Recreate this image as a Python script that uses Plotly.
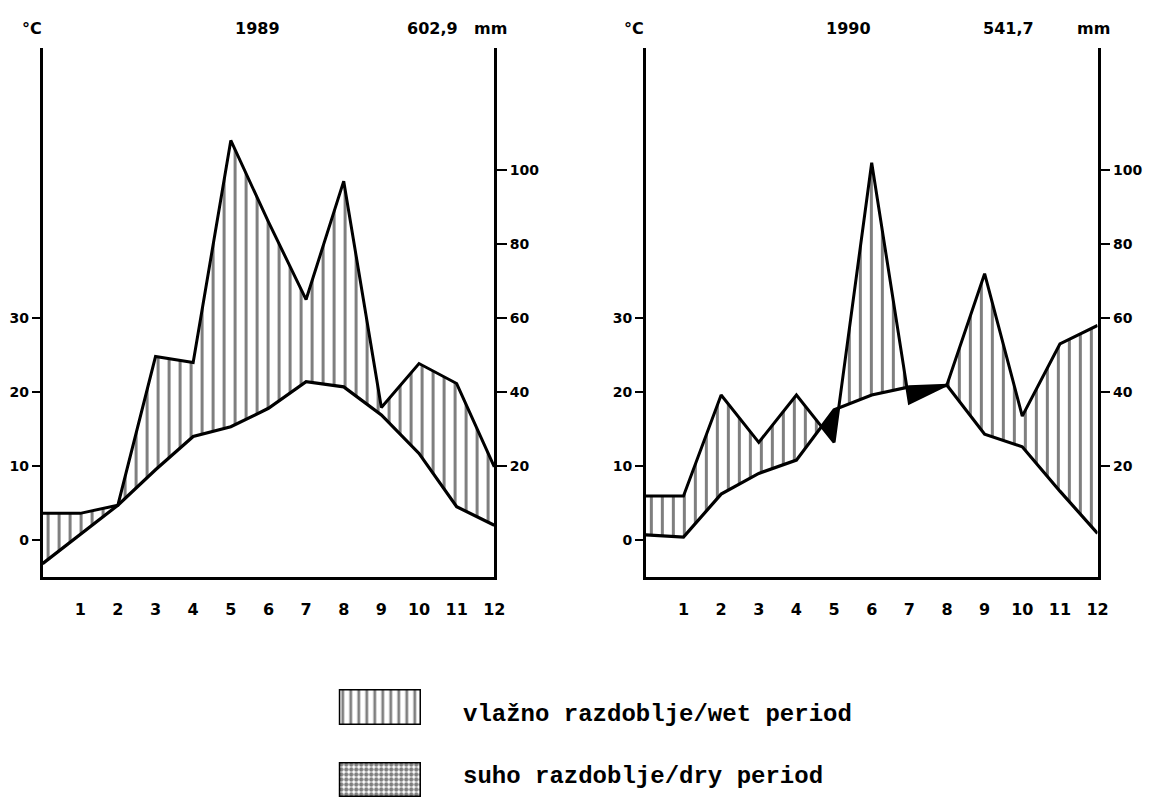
import plotly.graph_objects as go

# ---------------- data ----------------
months_x = [0, 1, 2, 3, 4, 5, 6, 7, 8, 9, 10, 11, 12]
month_labels = ["1", "2", "3", "4", "5", "6", "7", "8", "9", "10", "11", "12"]
month_ticks = [1, 2, 3, 4, 5, 6, 7, 8, 9, 10, 11, 12]

temp_1989 = [-3.2, 0.8, 4.7, 9.5, 14.0, 15.3, 17.8, 21.4, 20.7, 16.9, 11.7, 4.5, 2.0]
precip_1989 = [7.2, 7.2, 9.4, 49.6, 48.0, 108.0, 86.0, 65.0, 97.0, 35.8, 47.7, 42.3, 19.8]

temp_1990 = [0.7, 0.4, 6.2, 9.0, 10.8, 17.6, 19.6, 20.7, 20.9, 14.3, 12.6, 6.6, 0.9]
precip_1990 = [11.9, 11.9, 39.2, 26.4, 39.2, 26.4, 102.0, 37.0, 42.0, 72.0, 33.5, 53.0, 58.0]

temp_ticks = [0, 10, 20, 30]
precip_ticks = [20, 40, 60, 80, 100]

years = ["1989", "1990"]
totals = ["602,9", "541,7"]
unit_t = "°C"
unit_p = "mm"
legend_labels = ["vlažno razdoblje/wet period", "suho razdoblje/dry period"]

# ---------------- layout constants ----------------
W, H = 1166, 798
T_RANGE = [-5, 66.5]
P_RANGE = [2 * T_RANGE[0], 2 * T_RANGE[1]]
YDOM = [1 - 577 / H, 1 - 48 / H]
XDOM_L = [43 / W, 499 / W]
XDOM_R = [652 / W, 1108 / W]
# header text centres (px) for each chart: unit °C, year, total, unit mm
HDR_X = [[32, 260, 437, 495], [640, 857, 1018, 1104]]
BOLD = "DejaVu Sans"
HATCH = dict(shape="|", fgcolor="black", bgcolor="white", size=11, solidity=0.27)


def with_crossings(x, p, t):
    xs, ps, ts = [x[0]], [p[0]], [t[0]]
    for i in range(len(x) - 1):
        d0 = p[i] - t[i]
        d1 = p[i + 1] - t[i + 1]
        if d0 * d1 < 0:
            f = d0 / (d0 - d1)
            xc = x[i] + f * (x[i + 1] - x[i])
            yc = t[i] + f * (t[i + 1] - t[i])
            xs.append(xc); ps.append(yc); ts.append(yc)
        xs.append(x[i + 1]); ps.append(p[i + 1]); ts.append(t[i + 1])
    return xs, ps, ts


fig = go.Figure()


def add_chart(temp, precip, xa, ya, ya2):
    p_half = [v / 2 for v in precip]
    xs, ps, ts = with_crossings(months_x, p_half, temp)
    wet_top = [max(a, b) for a, b in zip(ps, ts)]
    dry_bot = [min(a, b) for a, b in zip(ps, ts)]
    common = dict(mode="lines", hoverinfo="skip", showlegend=False, xaxis=xa, yaxis=ya)
    fig.add_trace(go.Scatter(x=xs, y=ts, line=dict(width=0, color="black"), **common))
    fig.add_trace(go.Scatter(x=xs, y=wet_top, fill="tonexty", fillpattern=HATCH,
                             fillcolor="white", line=dict(width=0, color="black"), **common))
    fig.add_trace(go.Scatter(x=xs, y=dry_bot, line=dict(width=0, color="black"), **common))
    fig.add_trace(go.Scatter(x=xs, y=ts, fill="tonexty", fillcolor="black",
                             line=dict(width=0, color="black"), **common))
    fig.add_trace(go.Scatter(x=months_x, y=temp, line=dict(width=3.2, color="black"), **common))
    fig.add_trace(go.Scatter(x=months_x, y=precip, mode="lines", hoverinfo="skip", showlegend=False,
                             xaxis=xa, yaxis=ya2, line=dict(width=3, color="black")))


add_chart(temp_1989, precip_1989, "x", "y", "y2")
add_chart(temp_1990, precip_1990, "x2", "y3", "y4")

# legend boxes (drawn on their own small hidden axes)
box_x = [0, 1, 1, 0, 0]
box_y = [0, 0, 1, 1, 0]
fig.add_trace(go.Scatter(x=box_x, y=box_y, fill="toself", mode="lines",
                         fillpattern=dict(shape="|", fgcolor="black", bgcolor="white", size=8, solidity=0.35),
                         fillcolor="white", line=dict(color="black", width=3),
                         xaxis="x3", yaxis="y5", hoverinfo="skip", showlegend=False))
fig.add_trace(go.Scatter(x=box_x, y=box_y, fill="toself", mode="lines",
                         fillpattern=dict(shape=".", fgcolor="black", bgcolor="white", size=5, solidity=0.6),
                         fillcolor="white", line=dict(color="black", width=3),
                         xaxis="x4", yaxis="y6", hoverinfo="skip", showlegend=False))

tickfont = dict(family=BOLD, size=14, color="black", weight="bold")
monthfont = dict(family=BOLD, size=16, color="black", weight="bold")


def xaxis_cfg(dom, anchor):
    return dict(domain=dom, range=[0, 12], anchor=anchor, tickvals=month_ticks, ticktext=month_labels,
                ticks="", ticklabelstandoff=16, showline=True, linewidth=2.5, linecolor="black",
                showgrid=False, zeroline=False, tickfont=monthfont, fixedrange=True)


def taxis_cfg(anchor):
    return dict(domain=YDOM, range=T_RANGE, anchor=anchor, tickvals=temp_ticks, ticks="outside",
                ticklen=8, tickwidth=2, tickcolor="black", showline=True, linewidth=2.5,
                linecolor="black", showgrid=False, zeroline=False, tickfont=tickfont)


def paxis_cfg(over, anchor):
    return dict(overlaying=over, side="right", anchor=anchor, range=P_RANGE, tickvals=precip_ticks,
                ticks="outside", ticklen=10, tickwidth=2, tickcolor="black", showline=True,
                linewidth=2.5, linecolor="black", showgrid=False, zeroline=False, tickfont=tickfont)


hidden = dict(visible=False, range=[0, 1], fixedrange=True)
box_xdom = [342 / W, 425 / W]

fig.update_layout(
    width=W, height=H, margin=dict(l=0, r=0, t=0, b=0),
    paper_bgcolor="white", plot_bgcolor="rgba(0,0,0,0)",
    xaxis=xaxis_cfg(XDOM_L, "y"),
    yaxis=taxis_cfg("x"),
    yaxis2=paxis_cfg("y", "x"),
    xaxis2=xaxis_cfg(XDOM_R, "y3"),
    yaxis3=taxis_cfg("x2"),
    yaxis4=paxis_cfg("y3", "x2"),
    xaxis3=dict(domain=box_xdom, anchor="y5", **hidden),
    yaxis5=dict(domain=[1 - 725 / H, 1 - 689 / H], anchor="x3", **hidden),
    xaxis4=dict(domain=box_xdom, anchor="y6", **hidden),
    yaxis6=dict(domain=[1 - 797 / H, 1 - 762 / H], anchor="x4", **hidden),
    showlegend=False,
)

hdr = dict(family=BOLD, size=16, color="black", weight="bold")
ann = []
for xs_px, yr, tot in zip(HDR_X, years, totals):
    for txt, xp in zip([unit_t, yr, tot, unit_p], xs_px):
        ann.append(dict(x=xp / W, y=1 - 29 / H, text=txt, showarrow=False,
                        xref="paper", yref="paper", xanchor="center", yanchor="middle", font=hdr))

legfont = dict(family="Liberation Mono", size=24, color="black", weight="bold")
ann.append(dict(x=465 / W, y=1 - 714 / H, text=legend_labels[0], showarrow=False, xanchor="left",
                yanchor="middle", xref="paper", yref="paper", font=legfont))
ann.append(dict(x=465 / W, y=1 - 776 / H, text=legend_labels[1], showarrow=False, xanchor="left",
                yanchor="middle", xref="paper", yref="paper", font=legfont))
fig.update_layout(annotations=ann)

fig.write_html("out.html", config={"displayModeBar": False},
               post_script="document.body.style.margin='0px';document.body.style.overflow='hidden';")
